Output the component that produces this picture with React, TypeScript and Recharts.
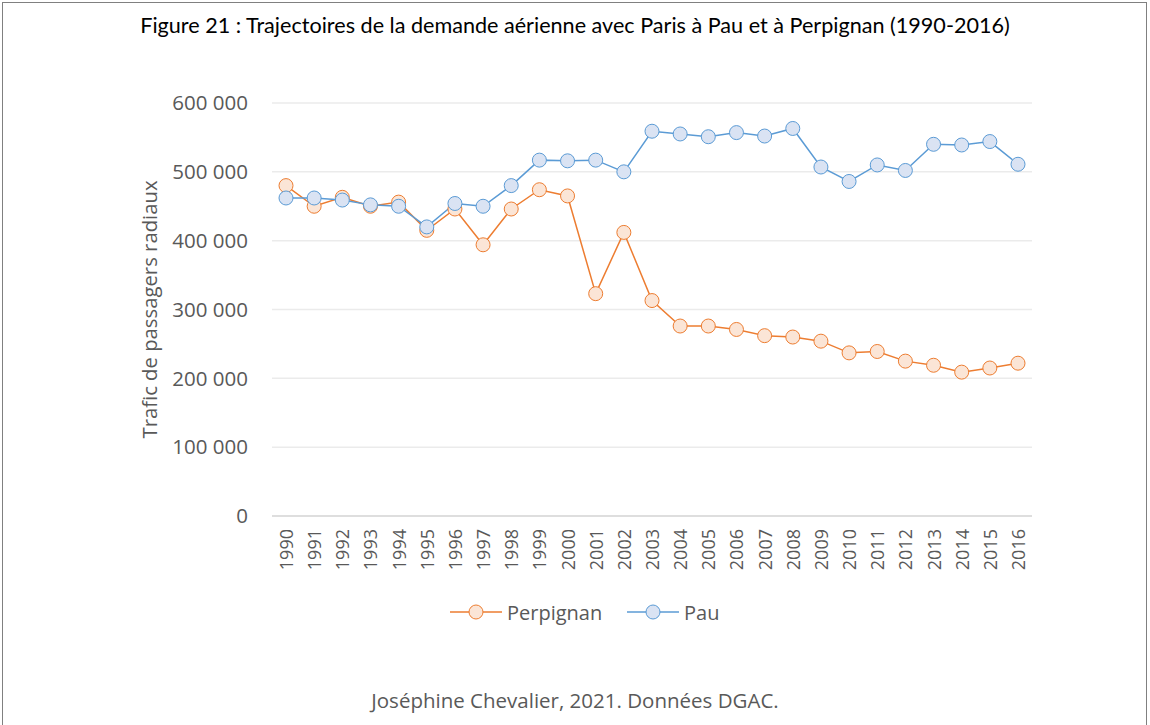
import React from 'react';
import { LineChart, Line, XAxis, YAxis, CartesianGrid, Label } from 'recharts';

const years = ['1990','1991','1992','1993','1994','1995','1996','1997','1998','1999','2000','2001','2002','2003','2004','2005','2006','2007','2008','2009','2010','2011','2012','2013','2014','2015','2016'];
const perpignan = [480000,450000,463000,450000,456000,415000,446000,394000,446000,474000,465000,323000,412000,313000,276000,276000,271000,262000,260000,254000,237000,239000,225000,219000,209000,215000,222000];
const pau = [462000,462000,459000,452000,450000,420000,454000,450000,480000,517000,516000,517000,500000,559000,555000,551000,557000,552000,563000,507000,486000,510000,502000,540000,539000,544000,511000];
const yTicks = [0,100000,200000,300000,400000,500000,600000];

const title = 'Figure 21 : Trajectoires de la demande aérienne avec Paris à Pau et à Perpignan (1990-2016)';
const yLabel = 'Trafic de passagers radiaux';
const footer = 'Joséphine Chevalier, 2021. Données DGAC.';

const ORANGE = '#ED7D31';
const ORANGE_FILL = '#FBE5D6';
const BLUE = '#5B9BD5';
const BLUE_FILL = '#DAE3F3';
const TEXT = '#595959';
const FONT = '"Open Sans", "Noto Sans", sans-serif';

const data = years.map((y, i) => ({ year: y, Perpignan: perpignan[i], Pau: pau[i] }));

const fmt = (v: number) => String(v).replace(/\B(?=(\d{3})+(?!\d))/g, ' ');

const XTick = (props: any) => {
  const { x, y, payload } = props;
  const ty = y + 5;
  return (
    <text x={x} y={ty} transform={`rotate(-90, ${x}, ${ty})`} textAnchor="end" dominantBaseline="central" fill={TEXT} fontSize={18} fontFamily={FONT}>
      {payload.value}
    </text>
  );
};

const legendItems = [
  { name: 'Perpignan', stroke: ORANGE, fill: ORANGE_FILL, x: 450 },
  { name: 'Pau', stroke: BLUE, fill: BLUE_FILL, x: 627 },
];

export default function App() {
  return (
    <div style={{ position: 'absolute', left: 0, top: 0, width: 1150, height: 725, background: '#fff', overflow: 'hidden' }}>
      <div style={{ position: 'absolute', left: 2, top: 2, width: 1145, height: 740, border: '1px solid #808080', boxSizing: 'border-box' }} />
      <div style={{ position: 'absolute', left: 0, top: 12, width: 1150, textAlign: 'center', fontFamily: 'Lato, sans-serif', fontSize: 21.6, color: '#000', letterSpacing: 0 }}>
        {title}
      </div>
      <div style={{ position: 'absolute', left: 0, top: 0 }}>
        <LineChart width={1150} height={725} data={data} margin={{ top: 103, right: 118, bottom: 149, left: 0 }}>
          <CartesianGrid horizontal={true} vertical={false} stroke="#ebebeb" strokeWidth={1.5} />
          <XAxis dataKey="year" tick={<XTick />} tickLine={false} axisLine={{ stroke: '#d9d9d9', strokeWidth: 1.5 }} interval={0} height={60} padding={{ left: 14, right: 14 }} />
          <YAxis domain={[0, 600000]} ticks={yTicks} tickFormatter={fmt} width={272} tickLine={false} axisLine={false} tickMargin={18} tick={{ fill: TEXT, fontSize: 20.5, fontFamily: FONT }}>
            <Label value={yLabel} angle={-90} position="center" dx={14} style={{ fill: TEXT, fontSize: 20.3, fontFamily: FONT, textAnchor: 'middle' }} />
          </YAxis>
          <Line type="linear" dataKey="Perpignan" stroke={ORANGE} strokeWidth={1.5} dot={{ r: 7, fill: ORANGE_FILL, stroke: ORANGE, strokeWidth: 1 }} isAnimationActive={false} />
          <Line type="linear" dataKey="Pau" stroke={BLUE} strokeWidth={1.5} dot={{ r: 7, fill: BLUE_FILL, stroke: BLUE, strokeWidth: 1 }} isAnimationActive={false} />
        </LineChart>
      </div>
      <svg width={1150} height={40} style={{ position: 'absolute', left: 0, top: 592 }}>
        {legendItems.map((it) => (
          <g key={it.name}>
            <line x1={it.x} x2={it.x + 52} y1={20} y2={20} stroke={it.stroke} strokeWidth={1.5} />
            <circle cx={it.x + 26} cy={20} r={7} fill={it.fill} stroke={it.stroke} strokeWidth={1} />
            <text x={it.x + 57} y={20} dominantBaseline="central" fill={TEXT} fontSize={20} fontFamily={FONT}>{it.name}</text>
          </g>
        ))}
      </svg>
      <div style={{ position: 'absolute', left: 0, top: 686, width: 1150, textAlign: 'center', fontFamily: FONT, fontSize: 20.5, color: TEXT }}>
        {footer}
      </div>
    </div>
  );
}
